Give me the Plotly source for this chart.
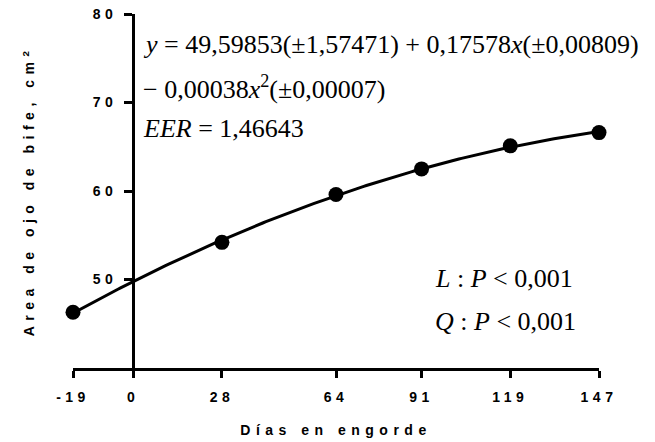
import numpy as np
import plotly.graph_objects as go

# Data
dias = [-19, 28, 64, 91, 119, 147]
area = [46.3, 54.2, 59.6, 62.5, 65.1, 66.6]
x_ticks = [-19, 0, 28, 64, 91, 119, 147]
x_ticktext = ["-19", "0", "28", "64", "91", "119", "147"]
y_ticks = [50, 60, 70, 80]

# Quadratic fit of the plotted points (the drawn regression curve)
c2, c1, c0 = np.polyfit(dias, area, 2)
xs = np.linspace(min(dias), max(dias), 200)
ys = c0 + c1 * xs + c2 * xs ** 2

W, H = 655, 442
L, R, T, B = 73, 56, 14, 74

fig = go.Figure()
fig.add_trace(go.Scatter(x=xs, y=ys, mode="lines",
                         line=dict(color="black", width=3),
                         hoverinfo="skip", cliponaxis=False, showlegend=False))
fig.add_trace(go.Scatter(x=dias, y=area, mode="markers",
                         marker=dict(color="black", size=15),
                         cliponaxis=False, showlegend=False))

sans_bold = dict(family="Liberation Sans", size=14, color="black", weight="bold")

fig.update_layout(
    width=W, height=H,
    margin=dict(l=L, r=R, t=T, b=B),
    plot_bgcolor="white", paper_bgcolor="white",
    xaxis=dict(range=[-19, 147], tickvals=x_ticks, ticktext=x_ticktext,
               showgrid=False, zeroline=False, automargin=False,
               showline=True, linecolor="black", linewidth=3,
               ticks="outside", ticklen=7, tickwidth=3, tickcolor="black",
               tickfont=sans_bold, ticklabelstandoff=7,
               title=dict(text="Días en engorde", font=sans_bold, standoff=22)),
    yaxis=dict(range=[40, 80], tickvals=y_ticks, showgrid=False, zeroline=False,
               anchor="free", position=19 / 166, automargin=False,
               showline=True, linecolor="black", linewidth=3,
               ticks="outside", ticklen=8, tickwidth=3, tickcolor="black",
               tickfont=sans_bold, ticklabelstandoff=4,
               title=dict(text="Area de ojo de bife, cm<sup>2</sup>",
                          font=sans_bold, standoff=62)),
)

serif = dict(family="'Liberation Serif', 'Times New Roman', 'DejaVu Serif', serif",
             size=26, color="black")
lines = [
    ("<i>y</i> = 49,59853(±1,57471) + 0,17578<i>x</i>(±0,00809)", 44),
    ("− 0,00038<i>x</i><sup>2</sup>(±0,00007)", 87),
    ("<i>EER</i> = 1,46643", 128),
]
for txt, py in lines:
    fig.add_annotation(text=txt, xref="paper", yref="paper",
                       x=(141 - L) / (W - L - R), y=1 - (py - T) / (H - T - B),
                       xanchor="left", yanchor="middle", showarrow=False, font=serif)

for txt, py in [("<i>L</i> : <i>P</i> < 0,001", 278), ("<i>Q</i> : <i>P</i> < 0,001", 321)]:
    fig.add_annotation(text=txt, xref="paper", yref="paper",
                       x=(433 - L) / (W - L - R), y=1 - (py - T) / (H - T - B),
                       xanchor="left", yanchor="middle", showarrow=False, font=serif)

# Letter-spaced axis texts as in the reference
post = """
var gd = document.getElementsByClassName('plotly-graph-div')[0];
gd.querySelectorAll('.xtick text, .ytick text').forEach(function(t){t.style.letterSpacing='4.5px';});
gd.querySelectorAll('.g-xtitle text, .g-ytitle text').forEach(function(t){t.style.letterSpacing='5.5px';});
"""
fig.write_html("out.html", post_script=post)
